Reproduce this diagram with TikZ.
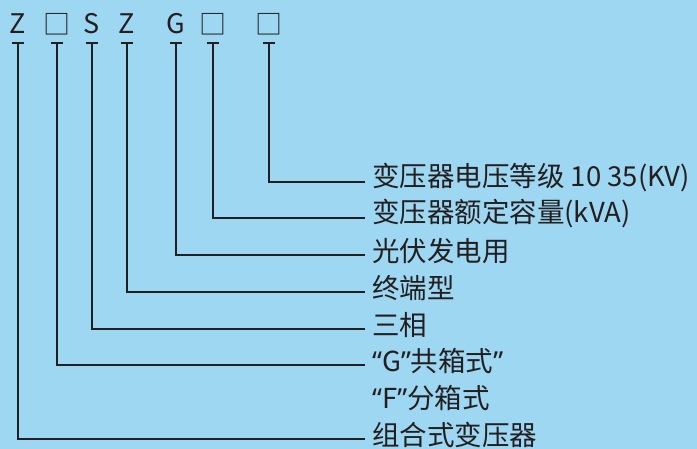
\documentclass[tikz,border=0pt]{standalone}
\usepackage{fontspec}
\setmainfont{Noto Sans CJK SC}
\newfontfamily\latin{Noto Sans}
\definecolor{skyblue}{HTML}{9ED7F2}
\definecolor{inkgray}{HTML}{231F20}
\tikzset{
  code/.style={inner sep=0pt, text=inkgray, font=\fontsize{27}{30}\selectfont},
  item/.style={anchor=west, inner sep=0pt, text=inkgray, font=\fontsize{27.5}{30}\selectfont},
  lead/.style={draw=inkgray, line width=1.4pt}
}
\newcommand{\openq}{{\latin “}}
\newcommand{\closeq}{{\latin ”}}
\begin{document}
\begin{tikzpicture}[x=1pt,y=-1pt]
\fill[skyblue] (0,0) rectangle (697,449);
\useasboundingbox (0,0) rectangle (697,449);

% model code
\node[code] (za) at (18,24) {Z};
\node[code] (ba) at (57,24) {□};
\node[code] (sa) at (92,24) {S};
\node[code] (zb) at (127,24) {Z};
\node[code] (ga) at (176,24) {G};
\node[code] (bb) at (213,24) {□};
\node[code] (bc) at (269,24) {□};

% meanings
\node[item] (volt) at (372,178) {变压器电压等级 10 35(KV)};
\node[item] (cap)  at (372,214) {变压器额定容量(kVA)};
\node[item] (pv)   at (372,251) {光伏发电用};
\node[item] (term) at (372,288) {终端型};
\node[item] (tri)  at (372,325) {三相};
\node[item] (gbox) at (372,361) {\openq G\closeq 共箱式\closeq};
\node[item] (fbox) at (372,398) {\openq F\closeq 分箱式};
\node[item] (comb) at (372,435) {组合式变压器};

% leaders
\foreach \c/\t in {bc/volt, bb/cap, ga/pv, zb/term, sa/tri, ba/gbox, za/comb} {
  \coordinate (\c-top) at ([yshift=-19pt]\c.center);
  \draw[lead] ([xshift=-6pt]\c-top) -- ([xshift=6pt]\c-top);
  \draw[lead] (\c-top) |- ([xshift=-7pt,yshift=-4pt]\t.west);
}
\end{tikzpicture}
\end{document}
